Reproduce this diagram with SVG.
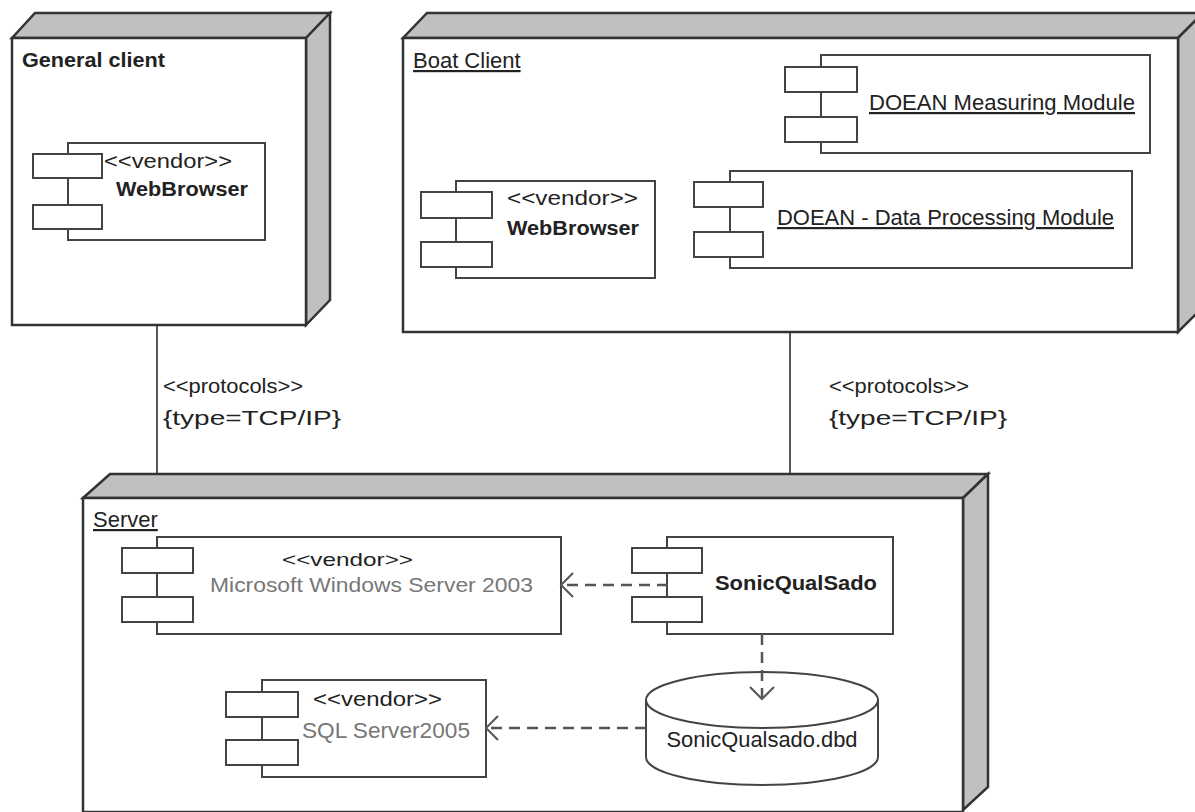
<svg xmlns="http://www.w3.org/2000/svg" width="1195" height="812" viewBox="0 0 1195 812">
<style>
.face{fill:#fff;stroke:#333;stroke-width:2.5}
.side{fill:#c0c0c0;stroke:#333;stroke-width:2.5;stroke-linejoin:miter}
.cbody{fill:#fff;stroke:#444;stroke-width:2}
.cport{fill:#fff;stroke:#444;stroke-width:2}
.t{font-family:"Liberation Sans",Arial,sans-serif;fill:#222}
.b{font-weight:bold}
.u{text-decoration:underline}
.g{fill:#777}
.link{stroke:#222;stroke-width:1.5;fill:none}
.dep{stroke:#555;stroke-width:2.5;fill:none;stroke-dasharray:11 7}
.head{stroke:#555;stroke-width:2;fill:none}
</style>
<rect width="1195" height="812" fill="#fff"/>

<g id="connectors">
  <line class="link" x1="157" y1="325" x2="157" y2="474"/>
  <text class="t" x="163" y="393" font-size="21" textLength="140" lengthAdjust="spacingAndGlyphs">&lt;&lt;protocols&gt;&gt;</text>
  <text class="t" x="163" y="425" font-size="21" textLength="178" lengthAdjust="spacingAndGlyphs">{type=TCP/IP}</text>
  <line class="link" x1="790" y1="332" x2="790" y2="474"/>
  <text class="t" x="829" y="393" font-size="21" textLength="140" lengthAdjust="spacingAndGlyphs">&lt;&lt;protocols&gt;&gt;</text>
  <text class="t" x="829" y="425" font-size="21" textLength="178" lengthAdjust="spacingAndGlyphs">{type=TCP/IP}</text>
</g>

<g id="general-client">
  <polygon class="side" points="12,38 35,13 330,13 306,38"/>
  <polygon class="side" points="306,38 330,13 330,300 306,325"/>
  <rect class="face" x="12" y="38" width="294" height="287"/>
  <text class="t b" x="22" y="67" font-size="20" textLength="143" lengthAdjust="spacingAndGlyphs">General client</text>
</g>
<g id="gc-webbrowser">
  <rect class="cbody" x="68" y="143" width="197" height="97"/>
  <rect class="cport" x="33" y="154" width="69" height="24"/>
  <rect class="cport" x="33" y="205" width="69" height="24"/>
  <text class="t" x="104" y="168" font-size="20" textLength="128" lengthAdjust="spacingAndGlyphs">&lt;&lt;vendor&gt;&gt;</text>
  <text class="t b" x="116" y="196" font-size="20" textLength="132" lengthAdjust="spacingAndGlyphs">WebBrowser</text>
</g>

<g id="boat-client">
  <polygon class="side" points="403,38 427,13 1203,13 1178,38"/>
  <polygon class="side" points="1178,38 1203,13 1203,307 1178,332"/>
  <rect class="face" x="403" y="38" width="775" height="294"/>
  <text class="t u" x="413" y="68" font-size="22">Boat Client</text>
</g>
<g id="doean-measuring">
  <rect class="cbody" x="821" y="55" width="329" height="98"/>
  <rect class="cport" x="785" y="67" width="72" height="25"/>
  <rect class="cport" x="785" y="117" width="72" height="25"/>
  <text class="t u" x="869" y="110" font-size="22" textLength="266" lengthAdjust="spacingAndGlyphs">DOEAN Measuring Module</text>
</g>
<g id="bc-webbrowser">
  <rect class="cbody" x="456" y="181" width="199" height="97"/>
  <rect class="cport" x="421" y="192" width="71" height="26"/>
  <rect class="cport" x="421" y="242" width="71" height="25"/>
  <text class="t" x="507" y="205" font-size="20" textLength="131" lengthAdjust="spacingAndGlyphs">&lt;&lt;vendor&gt;&gt;</text>
  <text class="t b" x="507" y="235" font-size="20" textLength="132" lengthAdjust="spacingAndGlyphs">WebBrowser</text>
</g>
<g id="doean-processing">
  <rect class="cbody" x="730" y="171" width="402" height="97"/>
  <rect class="cport" x="694" y="182" width="69" height="25"/>
  <rect class="cport" x="694" y="232" width="69" height="25"/>
  <text class="t u" x="777" y="225" font-size="22" textLength="337" lengthAdjust="spacingAndGlyphs">DOEAN - Data Processing Module</text>
</g>

<g id="server">
  <polygon class="side" points="83,498 110,474 988,474 963,498"/>
  <polygon class="side" points="963,498 988,474 988,787 963,810"/>
  <rect class="face" x="83" y="498" width="880" height="314"/>
  <text class="t u" x="93" y="527" font-size="22">Server</text>
</g>
<g id="windows-server">
  <rect class="cbody" x="157" y="537" width="404" height="97"/>
  <rect class="cport" x="122" y="548" width="71" height="25"/>
  <rect class="cport" x="122" y="597" width="71" height="25"/>
  <text class="t" x="282" y="566" font-size="19" textLength="131" lengthAdjust="spacingAndGlyphs">&lt;&lt;vendor&gt;&gt;</text>
  <text class="t g" x="210" y="592" font-size="21" textLength="323" lengthAdjust="spacingAndGlyphs">Microsoft Windows Server 2003</text>
</g>
<g id="sonicqualsado">
  <rect class="cbody" x="667" y="537" width="226" height="97"/>
  <rect class="cport" x="632" y="548" width="70" height="25"/>
  <rect class="cport" x="632" y="597" width="70" height="25"/>
  <text class="t b" x="715" y="590" font-size="20" textLength="162" lengthAdjust="spacingAndGlyphs">SonicQualSado</text>
</g>
<g id="sql-server">
  <rect class="cbody" x="262" y="680" width="224" height="97"/>
  <rect class="cport" x="226" y="692" width="72" height="25"/>
  <rect class="cport" x="226" y="740" width="72" height="25"/>
  <text class="t" x="313" y="706" font-size="20" textLength="129" lengthAdjust="spacingAndGlyphs">&lt;&lt;vendor&gt;&gt;</text>
  <text class="t g" x="302" y="738" font-size="22" textLength="168" lengthAdjust="spacingAndGlyphs">SQL Server2005</text>
</g>
<g id="sonicqualsado-dbd">
  <path d="M646,700 L646,757 A116,28 0 0 0 878,757 L878,700" fill="#fff" stroke="#444" stroke-width="2"/>
  <ellipse cx="762" cy="700" rx="116" ry="28" fill="#fff" stroke="#444" stroke-width="2"/>
  <text class="t" x="762" y="747" font-size="22" text-anchor="middle" fill="#333" textLength="191" lengthAdjust="spacingAndGlyphs">SonicQualsado.dbd</text>
</g>

<g id="dependencies">
  <line class="dep" x1="668" y1="585" x2="563" y2="585"/>
  <polyline class="head" points="573,573 561,585 573,597"/>
  <line class="dep" x1="762" y1="634" x2="762" y2="697"/>
  <polyline class="head" points="750,687 762,699 774,687"/>
  <line class="dep" x1="646" y1="728" x2="488" y2="728"/>
  <polyline class="head" points="498,716 486,728 498,740"/>
</g>
</svg>
